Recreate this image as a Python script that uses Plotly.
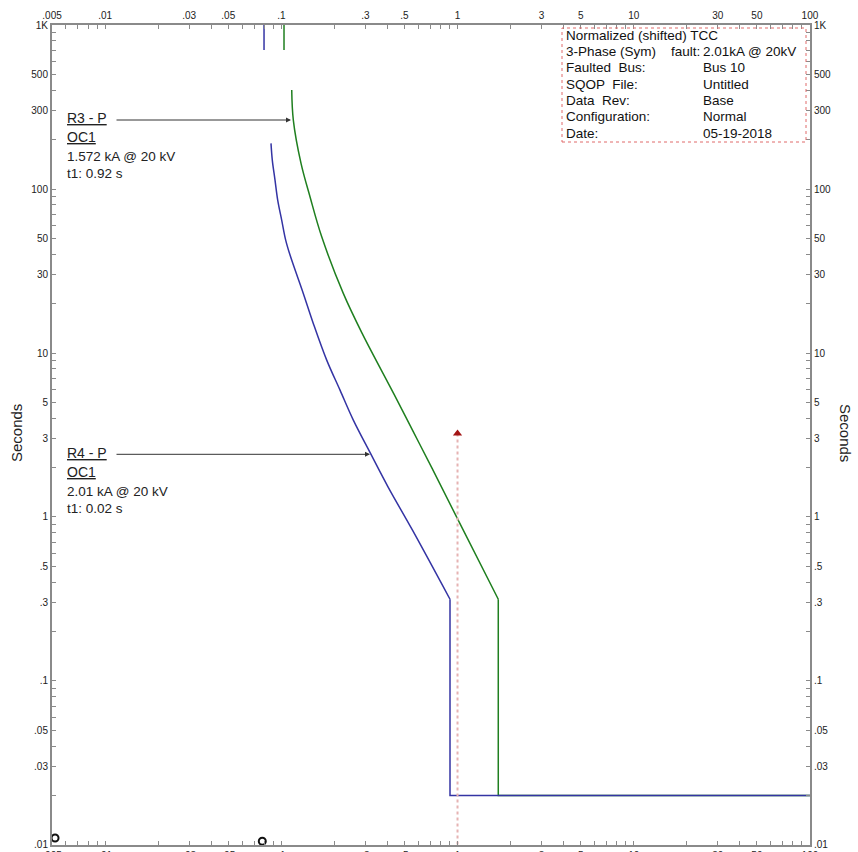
import plotly.graph_objects as go
import math

# ---------------- data ----------------
blue_top_x = [0.0798, 0.0798]
blue_top_y = [1000, 704]
blue_x = [0.0874, 0.0889, 0.0921, 0.0954, 0.1005, 0.1059, 0.1121, 0.1333, 0.1519,
          0.1810, 0.2154, 0.2563, 0.3208, 0.4031, 0.5552, 0.9064]
blue_y = [189.8, 150.2, 113.4, 85.6, 64.65, 48.8, 39.54, 23.09, 15.15,
          9.048, 5.937, 3.896, 2.440, 1.5265, 0.831, 0.315]
blue_step_x = [0.9064, 0.9064, 100]
blue_step_y = [0.315, 0.02, 0.02]

green_top_x = [0.1036, 0.1036]
green_top_y = [1000, 704]
green_x = [0.1146, 0.1170, 0.1294, 0.1455, 0.1696, 0.2248, 0.2871,
           0.4359, 0.5588, 0.7163, 1.0022, 1.703]
green_y = [401.4, 263.4, 143.3, 89.7, 51.1, 23.09, 13.22,
           5.613, 3.338, 1.9857, 0.9698, 0.315]
green_step_x = [1.703, 1.703, 100]
green_step_y = [0.315, 0.02, 0.02]

fault_x = [1.0, 1.0]
fault_y = [3.23, 0.01]

circle_x = [0.0052, 0.0780]
circle_y = [0.01103, 0.01053]

x_label_vals = [0.005, 0.01, 0.03, 0.05, 0.1, 0.3, 0.5, 1, 3, 5, 10, 30, 50, 100]
x_label_text = [".005", ".01", ".03", ".05", ".1", ".3", ".5", "1", "3", "5", "10", "30", "50", "100"]
y_label_vals = [0.01, 0.03, 0.05, 0.1, 0.3, 0.5, 1, 3, 5, 10, 30, 50, 100, 300, 500, 1000]
y_label_text = [".01", ".03", ".05", ".1", ".3", ".5", "1", "3", "5", "10", "30", "50", "100", "300", "500", "1K"]

legend_left = ["Normalized (shifted) TCC", "3-Phase (Sym)", "Faulted  Bus:", "SQOP  File:",
               "Data  Rev:", "Configuration:", "Date:"]
legend_right = ["", "2.01kA @ 20kV", "Bus 10", "Untitled", "Base", "Normal", "05-19-2018"]

r3_lines = ["<u>R3 - P</u>", "<u>OC1</u>", "1.572 kA @ 20 kV", "t1: 0.92 s"]
r4_lines = ["<u>R4 - P</u>", "<u>OC1</u>", "2.01 kA @ 20 kV", "t1: 0.02 s"]

# tick positions (every integer multiple within each decade)
def multiples(lo_exp, hi_exp, start, stop):
    vals = []
    for e in range(lo_exp, hi_exp + 1):
        for m in range(1, 10):
            v = m * 10 ** e
            if start * 0.999 <= v <= stop * 1.001:
                vals.append(float(f"{v:.6g}"))
    return vals

x_ticks = multiples(-3, 2, 0.005, 100)
y_ticks = multiples(-2, 3, 0.01, 1000)

def labels(ticks, lv, lt):
    out = []
    for t in ticks:
        lab = ""
        for v, s in zip(lv, lt):
            if abs(v - t) / v < 1e-6:
                lab = s
        out.append(lab)
    return out

x_tick_text = labels(x_ticks, x_label_vals, x_label_text)
y_tick_text = labels(y_ticks, y_label_vals, y_label_text)

# ---------------- figure ----------------
W, H = 858, 852
ML, MR, MT, MB = 52, 48, 25, 7
PW, PH = W - ML - MR, H - MT - MB

def px(x):
    return (x - ML) / PW

def py(y):
    return 1 - (y - MT) / PH

FONT = "Liberation Sans, Arial, sans-serif"
BLUE = "#3434a4"
GREEN = "#1f7f1f"
AX = "#8a8a8a"

fig = go.Figure()
for xs, ys, col, shape in ((green_top_x, green_top_y, GREEN, "linear"),
                           (green_x, green_y, GREEN, "spline"),
                           (green_step_x, green_step_y, GREEN, "linear"),
                           (blue_top_x, blue_top_y, BLUE, "linear"),
                           (blue_x, blue_y, BLUE, "spline"),
                           (blue_step_x, blue_step_y, BLUE, "linear")):
    fig.add_trace(go.Scatter(x=xs, y=ys, mode="lines",
                             line=dict(color=col, width=1.5, shape=shape,
                                       smoothing=1.0 if shape == "spline" else None),
                             showlegend=False))
fig.add_trace(go.Scatter(x=fault_x, y=fault_y, mode="lines",
                         line=dict(color="#e6b3b3", width=2, dash="dot"), showlegend=False))
fig.add_trace(go.Scatter(x=[fault_x[0]], y=[fault_y[0]], mode="markers",
                         marker=dict(symbol="triangle-up", size=8, color="#a31515"), showlegend=False))
fig.add_trace(go.Scatter(x=circle_x, y=circle_y, mode="markers",
                         marker=dict(symbol="circle-open", size=7, color="#111",
                                     line=dict(width=2, color="#111")),
                         showlegend=False, cliponaxis=False))
# invisible trace to anchor secondary axes
fig.add_trace(go.Scatter(x=[1], y=[1], xaxis="x2", yaxis="y2", mode="markers",
                         marker=dict(opacity=0), showlegend=False, hoverinfo="skip"))

xr = [math.log10(0.005) - 0.0002, 2.0002]
yr = [-2.0002, 3.0002]
common = dict(type="log", showgrid=False, zeroline=False, showline=True, linecolor=AX,
              linewidth=2, ticks="inside", ticklen=4, tickwidth=1, tickcolor=AX,
              tickfont=dict(family=FONT, size=10, color="#222"), tickmode="array",
              automargin=False)

fig.update_layout(
    width=W, height=H,
    margin=dict(l=ML, r=MR, t=MT, b=MB, autoexpand=False),
    paper_bgcolor="white", plot_bgcolor="white",
    font=dict(family=FONT, color="#222"),
    xaxis=dict(range=xr, tickvals=x_ticks, ticktext=x_tick_text, side="bottom", **common),
    xaxis2=dict(range=xr, tickvals=x_ticks, ticktext=x_tick_text, side="top",
                overlaying="x", anchor="y", **common),
    yaxis=dict(range=yr, tickvals=y_ticks, ticktext=y_tick_text, side="left", **common),
    yaxis2=dict(range=yr, tickvals=y_ticks, ticktext=y_tick_text, side="right",
                overlaying="y", anchor="x", **common),
)

ann = []
# axis titles
ann.append(dict(text="Seconds", xref="paper", yref="paper", x=px(16), y=py(433),
                xanchor="center", yanchor="middle",
                textangle=-90, showarrow=False, font=dict(size=15, family=FONT, color="#222")))
ann.append(dict(text="Seconds", xref="paper", yref="paper", x=px(846), y=py(433),
                xanchor="center", yanchor="middle",
                textangle=90, showarrow=False, font=dict(size=15, family=FONT, color="#222")))

# legend box text
leg_y = [35, 51.4, 67.8, 84.2, 100.6, 117, 133.4]
for i, (a, b) in enumerate(zip(legend_left, legend_right)):
    ann.append(dict(text=a, xref="paper", yref="paper", x=px(564), y=py(leg_y[i]),
                    xanchor="left", yanchor="middle", showarrow=False,
                    font=dict(size=13.5, family=FONT, color="#111")))
    if b:
        ann.append(dict(text=b, xref="paper", yref="paper", x=px(701), y=py(leg_y[i]),
                        xanchor="left", yanchor="middle", showarrow=False,
                        font=dict(size=13.5, family=FONT, color="#111")))
ann.append(dict(text="fault:", xref="paper", yref="paper", x=px(702), y=py(leg_y[1]),
                xanchor="right", yanchor="middle", showarrow=False,
                font=dict(size=13.5, family=FONT, color="#111")))

# relay labels
for lines, y0 in ((r3_lines, 118.3), (r4_lines, 453.3)):
    offs = [0, 18.4, 38.4, 55]
    for j, t in enumerate(lines):
        ann.append(dict(text=t, xref="paper", yref="paper", x=px(65), y=py(y0 + offs[j]),
                        xanchor="left", yanchor="middle", showarrow=False,
                        font=dict(size=14 if j < 2 else 13.5, family=FONT, color="#222")))

# arrows
for tipx, tipy in ((291, 120), (370, 454.3)):
    ann.append(dict(text="", xref="paper", yref="paper", x=px(tipx), y=py(tipy),
                    ax=-(tipx - 115), ay=0, showarrow=True, arrowhead=2, arrowsize=1,
                    arrowwidth=1, arrowcolor="#333", standoff=0))

fig.update_layout(annotations=ann)

fig.add_shape(type="rect", xref="paper", yref="paper", x0=px(562), x1=px(806),
              y0=py(142), y1=py(28), line=dict(color="#e06a6a", width=1, dash="dot"),
              fillcolor="rgba(0,0,0,0)")

fig.write_html("out.html")
